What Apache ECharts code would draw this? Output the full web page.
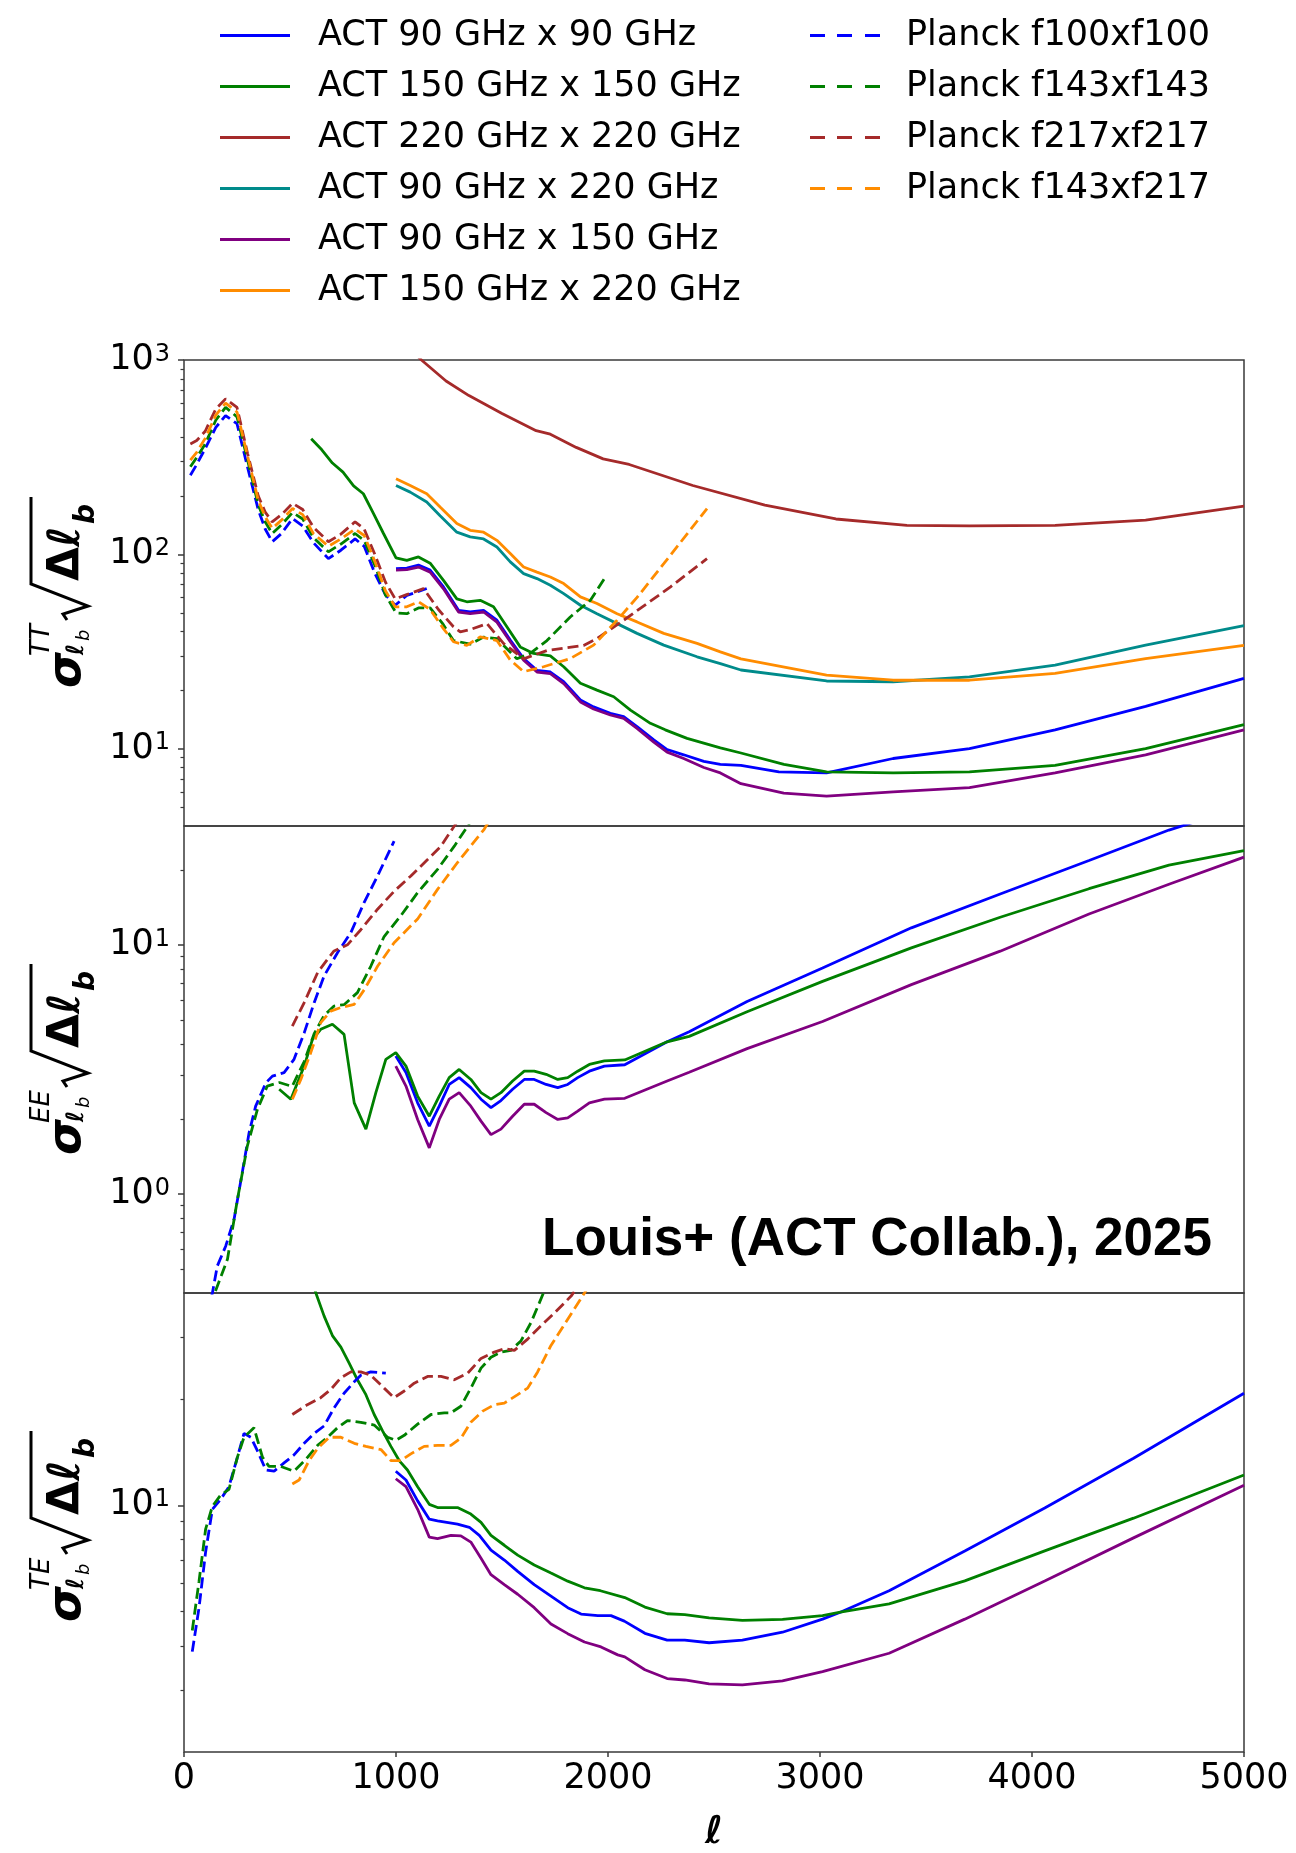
<!DOCTYPE html>
<html><head><meta charset="utf-8">
<script src="https://cdn.jsdelivr.net/npm/echarts@6/dist/echarts.min.js"></script>
<style>html,body{margin:0;padding:0;background:#fff}#c{width:1296px;height:1853px}</style>
</head><body><div id="c"></div>
<script>
// ---------------- names ----------------
const ACT_NAMES = ['ACT 90 GHz x 90 GHz','ACT 150 GHz x 150 GHz','ACT 220 GHz x 220 GHz','ACT 90 GHz x 220 GHz','ACT 90 GHz x 150 GHz','ACT 150 GHz x 220 GHz'];
const PLANCK_NAMES = ['Planck f100xf100','Planck f143xf143','Planck f217xf217','Planck f143xf217'];

// ---------------- axis tick values ----------------
const TT_RANGE = [4, 1000];
const EE_RANGE = [0.4, 30];
const TE_RANGE = [2, 40];
const TT_MAJOR = [10, 100, 1000];
const EE_MAJOR = [1, 10];
const TE_MAJOR = [10];
const TT_MINOR = [5,6,7,8,9,20,30,40,50,60,70,80,90,200,300,400,500,600,700,800,900];
const EE_MINOR = [0.5,0.6,0.7,0.8,0.9,2,3,4,5,6,7,8,9,20];
const TE_MINOR = [3,4,5,6,7,8,9,20,30];
const X_TICKS = [0,1000,2000,3000,4000,5000];

// ---------------- TT data [ell, value] ----------------
const TT_ACT_90x90 = [[1000,84.5],[1051,85],[1106,88],[1161,83],[1224,68],[1295,51.5],[1350,50.6],[1413,51.5],[1476,45.8],[1539,36.2],[1602,29.1],[1665,25.3],[1728,24.8],[1791,22.1],[1870,17.8],[1932,16.4],[2011,15.2],[2074,14.6],[2137,13],[2216,11.1],[2279,9.9],[2357,9.3],[2452,8.6],[2530,8.3],[2627,8.2],[2806,7.6],[3031,7.5],[3345,8.9],[3705,10],[4109,12.5],[4536,16.5],[5000,23]];
const TT_ACT_150x150 = [[600,393],[650,345],[700,295],[750,265],[800,225],[846,205],[894,162],[941,128],[1000,96],[1051,93],[1106,97],[1161,90],[1224,73.5],[1287,59],[1334,57],[1397,58],[1460,53.7],[1523,42.4],[1586,33.4],[1649,30.9],[1728,30],[1791,26.4],[1870,21.7],[1948,20],[2027,18.5],[2106,15.8],[2200,13.5],[2270,12.5],[2373,11.3],[2530,10.1],[2627,9.5],[2830,8.3],[3031,7.6],[3345,7.5],[3705,7.6],[4109,8.2],[4536,10],[5000,13.3]];
const TT_ACT_220x220 = [[1000,1350],[1120,1000],[1236,780],[1344,656],[1500,530],[1661,433],[1728,415],[1850,355],[1977,310],[2100,290],[2400,226],[2740,179],[3075,152],[3410,141],[3705,140],[4109,141],[4536,150],[5000,177]];
const TT_ACT_90x220 = [[1000,226],[1067,209],[1145,186],[1208,158],[1287,130],[1350,123],[1413,120],[1476,109],[1539,91.5],[1602,79.6],[1665,75],[1728,69.3],[1791,62.8],[1870,54.7],[1948,49.5],[2043,44],[2137,39.2],[2263,34.1],[2420,29.7],[2530,27.4],[2627,25.4],[3031,22.3],[3345,22.1],[3705,23.4],[4109,26.9],[4536,34.1],[5000,43]];
const TT_ACT_90x150 = [[1000,83],[1051,83.5],[1106,86],[1161,81],[1224,66.5],[1295,50.5],[1350,49.5],[1413,50.5],[1476,44.8],[1539,35.5],[1602,28.5],[1665,24.8],[1728,24.3],[1791,21.6],[1870,17.4],[1932,16],[2011,14.9],[2074,14.3],[2137,12.7],[2216,10.8],[2279,9.6],[2357,8.9],[2452,8.0],[2530,7.5],[2627,6.6],[2829,5.9],[3031,5.7],[3345,6.0],[3705,6.3],[4109,7.5],[4536,9.3],[5000,12.5]];
const TT_ACT_150x220 = [[1000,245],[1067,226],[1145,205],[1208,175],[1287,144],[1350,133],[1413,130],[1476,118],[1539,101],[1602,86],[1665,81],[1728,76.5],[1791,70.7],[1870,60.4],[1948,55.8],[2043,49.5],[2137,44.9],[2263,39.2],[2420,34.8],[2530,31.5],[2627,29],[3031,23.9],[3345,22.5],[3705,22.5],[4109,24.4],[4536,29.1],[5000,34]];
const TT_P_100 = [[30,255],[60,290],[100,350],[150,450],[196,518],[250,470],[300,280],[350,170],[383,135],[416,116],[460,128],[512,153],[560,140],[610,115],[681,95],[740,105],[807,120],[850,110],[900,80],[950,62],[996,54.7],[1051,61.5],[1100,64],[1145,66.7]];
const TT_P_143 = [[30,282],[60,315],[100,370],[150,490],[196,571],[250,510],[300,305],[350,180],[383,147],[416,128],[460,142],[512,164],[560,152],[610,122],[681,103],[740,113],[807,128],[850,118],[900,88],[950,62],[1000,50],[1051,49.5],[1106,53],[1161,53],[1220,44],[1271,36],[1350,34.5],[1413,37.5],[1476,36.8],[1570,29],[1633,30.9],[1712,36],[1822,47.6],[1917,58],[1988,76.5]];
const TT_P_217 = [[30,370],[60,385],[100,430],[150,560],[196,631],[250,570],[300,330],[350,200],[383,165],[416,147],[460,160],[512,183],[560,170],[610,138],[681,116],[740,127],[807,147],[850,135],[900,100],[950,72],[996,59],[1050,62],[1130,66.6],[1200,52],[1271,42.4],[1303,39.9],[1350,41],[1429,44],[1507,34.8],[1602,29],[1712,32],[1800,33],[1885,34],[1948,36.9],[2074,45.8],[2184,55.8],[2295,68],[2467,95]];
const TT_P_143x217 = [[30,305],[60,335],[100,395],[150,520],[196,600],[250,540],[300,320],[350,190],[383,156],[416,136],[460,150],[512,172],[560,160],[610,128],[681,110],[740,120],[807,135],[850,125],[900,92],[950,65],[996,53.7],[1051,53.7],[1106,57],[1161,52],[1220,42],[1271,35.5],[1334,34],[1397,37.6],[1476,36],[1539,28.6],[1602,24.9],[1696,26.4],[1822,29.1],[1932,34.1],[2043,45.8],[2137,60],[2263,89.5],[2467,172]];

// ---------------- EE data ----------------
const EE_ACT_90x90 = [[999,3.58],[1047,3.07],[1102,2.32],[1157,1.87],[1204,2.25],[1251,2.75],[1298,2.93],[1353,2.67],[1401,2.4],[1448,2.22],[1495,2.37],[1550,2.63],[1605,2.88],[1652,2.88],[1708,2.75],[1763,2.67],[1810,2.75],[1857,2.93],[1912,3.11],[1983,3.26],[2079,3.3],[2279,4.08],[2383,4.48],[2656,5.92],[3012,8.07],[3431,11.7],[3850,16],[4269,21.8],[4646,28.9],[5000,36]];
const EE_ACT_150x150 = [[449,2.63],[504,2.4],[567,3.26],[606,4.17],[645,4.58],[700,4.8],[755,4.37],[803,2.32],[858,1.82],[905,2.55],[952,3.47],[999,3.69],[1047,3.26],[1102,2.47],[1157,2.05],[1204,2.47],[1251,2.93],[1298,3.16],[1353,2.88],[1401,2.55],[1448,2.4],[1495,2.55],[1550,2.84],[1605,3.11],[1652,3.11],[1708,3.02],[1763,2.88],[1810,2.93],[1857,3.11],[1912,3.31],[1983,3.42],[2079,3.45],[2279,4.08],[2383,4.29],[2656,5.39],[3012,7.13],[3431,9.72],[3850,12.9],[4269,16.8],[4646,20.9],[5000,23.9]];
const EE_ACT_90x150 = [[999,3.26],[1047,2.71],[1102,1.99],[1157,1.53],[1204,1.99],[1251,2.4],[1298,2.55],[1353,2.25],[1401,1.96],[1448,1.73],[1495,1.82],[1550,2.05],[1605,2.29],[1652,2.29],[1708,2.12],[1763,1.99],[1810,2.02],[1857,2.15],[1912,2.32],[1983,2.4],[2079,2.42],[2279,2.84],[2383,3.08],[2656,3.83],[3012,4.92],[3431,6.92],[3850,9.43],[4269,13.3],[4646,17.5],[5000,22.5]];
const EE_P_100 = [[30,0.12],[100,0.3],[134,0.4],[157,0.513],[197,0.618],[236,0.79],[275,1.22],[307,1.76],[338,2.25],[386,2.79],[417,2.97],[472,3.07],[519,3.47],[567,4.43],[614,5.86],[661,7.5],[724,9.3],[787,11.2],[850,14.8],[913,18.9],[991,26.1]];
const EE_P_143 = [[30,0.11],[100,0.28],[145,0.4],[205,0.546],[252,0.95],[299,1.56],[346,2.18],[393,2.71],[450,2.8],[510,2.7],[567,3.4],[614,4.4],[661,5.2],[708,5.68],[755,5.75],[818,6.43],[881,8.2],[944,10.8],[1023,13.1],[1102,16.2],[1196,20.1],[1275,24.9],[1338,30],[1400,36]];
const EE_P_217 = [[511,4.72],[567,5.86],[630,7.73],[677,8.75],[708,9.45],[771,10],[834,11.5],[913,13.9],[991,16.4],[1070,18.9],[1149,22],[1212,24.9],[1275,30],[1340,36]];
const EE_P_143x217 = [[511,2.4],[551,2.88],[598,3.69],[645,4.87],[692,5.42],[740,5.6],[803,5.77],[850,6.6],[913,8.2],[991,10.2],[1102,12.7],[1196,16.7],[1290,21.4],[1416,29.1],[1480,36]];

// ---------------- TE data ----------------
const TE_ACT_90x90 = [[999,12.5],[1047,11.8],[1102,10.3],[1157,9.14],[1196,9.04],[1290,8.85],[1346,8.67],[1393,8.22],[1448,7.47],[1511,7.0],[1574,6.5],[1652,5.96],[1731,5.53],[1810,5.13],[1873,4.92],[1952,4.87],[2014,4.87],[2077,4.7],[2174,4.34],[2279,4.15],[2362,4.15],[2477,4.08],[2634,4.15],[2823,4.37],[3012,4.76],[3096,4.98],[3326,5.73],[3683,7.43],[4060,9.83],[4479,13.6],[5000,20.8]];
const TE_ACT_150x150 = [[600,44],[622,40],[661,34.4],[700,30.3],[740,28.1],[779,25.3],[818,22.7],[858,20.6],[897,18.1],[936,16.3],[976,14.7],[1015,13.4],[1054,12.6],[1102,11.3],[1157,10.07],[1196,9.86],[1290,9.86],[1353,9.45],[1401,8.95],[1448,8.22],[1511,7.71],[1574,7.23],[1652,6.78],[1731,6.43],[1810,6.1],[1889,5.84],[1964,5.73],[2079,5.48],[2174,5.15],[2279,4.93],[2362,4.9],[2477,4.8],[2634,4.72],[2823,4.75],[3012,4.87],[3096,4.98],[3326,5.26],[3683,6.11],[4060,7.43],[4479,9.2],[5000,12.2]];
const TE_ACT_90x150 = [[999,11.9],[1047,11.3],[1102,9.75],[1157,8.13],[1196,8.05],[1259,8.22],[1306,8.2],[1353,7.87],[1401,7.08],[1448,6.36],[1511,5.96],[1574,5.6],[1652,5.13],[1731,4.61],[1810,4.33],[1889,4.1],[1967,3.97],[2046,3.77],[2079,3.72],[2174,3.42],[2279,3.23],[2362,3.2],[2477,3.12],[2634,3.1],[2823,3.18],[3012,3.38],[3326,3.81],[3683,4.76],[4060,6.11],[4479,8.09],[5000,11.4]];
const TE_P_100 = [[39,3.85],[71,5.13],[102,7.38],[134,9.75],[173,10.4],[212,11.3],[252,13.7],[283,16],[315,15.6],[346,14.3],[386,12.6],[425,12.5],[472,13.2],[519,13.9],[567,15],[614,16],[661,16.8],[708,18.9],[755,20.8],[803,22.4],[834,23.4],[881,23.9],[952,23.7]];
const TE_P_143 = [[39,4.42],[71,6.1],[102,8.57],[134,9.95],[173,10.7],[212,11.1],[252,13.7],[283,15.6],[330,16.6],[370,13.7],[401,12.9],[456,12.9],[519,12.5],[574,13.5],[630,14.8],[677,15.6],[724,16.6],[771,17.4],[834,17.2],[897,16.9],[960,15.6],[999,15.3],[1039,15.8],[1102,17],[1165,18.1],[1228,18.3],[1259,18.3],[1306,19.1],[1353,21.5],[1401,24.5],[1448,26.3],[1495,27.2],[1542,27.5],[1590,29.3],[1637,33],[1676,37.5],[1710,42]];
const TE_P_217 = [[511,18.1],[582,19.3],[645,20.2],[692,21.3],[740,23],[787,23.9],[834,23.9],[881,23.4],[944,21.5],[991,20.2],[1039,21.1],[1086,22.2],[1149,23.2],[1212,23.2],[1275,22.7],[1338,23.7],[1401,26.1],[1464,27.2],[1511,27.8],[1558,27.5],[1621,29.6],[1684,32.3],[1747,35.1],[1826,39.2],[1860,42]];
const TE_P_143x217 = [[511,11.5],[543,11.8],[590,13.4],[630,14.5],[685,15.6],[740,15.6],[803,15],[858,14.7],[929,14.4],[976,13.4],[1023,13.4],[1070,14],[1133,14.7],[1196,14.8],[1259,14.8],[1306,15.5],[1353,17.2],[1409,18.5],[1464,19.3],[1511,19.5],[1574,20.6],[1621,21.5],[1668,23.9],[1731,28.4],[1810,33.7],[1889,40],[1920,43]];

// ---------------- styling ----------------
const COLOR = {
  'ACT 90 GHz x 90 GHz':'#0000ff','ACT 150 GHz x 150 GHz':'#008000','ACT 220 GHz x 220 GHz':'#a52a2a',
  'ACT 90 GHz x 220 GHz':'#008b8b','ACT 90 GHz x 150 GHz':'#800080','ACT 150 GHz x 220 GHz':'#ff8c00',
  'Planck f100xf100':'#0000ff','Planck f143xf143':'#008000','Planck f217xf217':'#a52a2a','Planck f143xf217':'#ff8c00'
};
const FONT = '"DejaVu Sans", sans-serif';
const GRID_LEFT = 184, GRID_W = 1060, GRID_TOPS = [360, 826, 1293], GRID_H = [466, 467, 467];

const PANELS = [
  {range:TT_RANGE, major:TT_MAJOR, minor:TT_MINOR, sup:'TT', series:[
    ['ACT 90 GHz x 90 GHz',TT_ACT_90x90],['ACT 150 GHz x 150 GHz',TT_ACT_150x150],['ACT 220 GHz x 220 GHz',TT_ACT_220x220],
    ['ACT 90 GHz x 220 GHz',TT_ACT_90x220],['ACT 90 GHz x 150 GHz',TT_ACT_90x150],['ACT 150 GHz x 220 GHz',TT_ACT_150x220],
    ['Planck f100xf100',TT_P_100],['Planck f143xf143',TT_P_143],['Planck f217xf217',TT_P_217],['Planck f143xf217',TT_P_143x217]]},
  {range:EE_RANGE, major:EE_MAJOR, minor:EE_MINOR, sup:'EE', series:[
    ['ACT 90 GHz x 90 GHz',EE_ACT_90x90],['ACT 150 GHz x 150 GHz',EE_ACT_150x150],['ACT 90 GHz x 150 GHz',EE_ACT_90x150],
    ['Planck f100xf100',EE_P_100],['Planck f143xf143',EE_P_143],['Planck f217xf217',EE_P_217],['Planck f143xf217',EE_P_143x217]]},
  {range:TE_RANGE, major:TE_MAJOR, minor:TE_MINOR, sup:'TE', series:[
    ['ACT 90 GHz x 90 GHz',TE_ACT_90x90],['ACT 150 GHz x 150 GHz',TE_ACT_150x150],['ACT 90 GHz x 150 GHz',TE_ACT_90x150],
    ['Planck f100xf100',TE_P_100],['Planck f143xf143',TE_P_143],['Planck f217xf217',TE_P_217],['Planck f143xf217',TE_P_143x217]]}
];

const grids = [], xAxes = [], yAxes = [], series = [];
PANELS.forEach((p, g) => {
  grids.push({left:GRID_LEFT, top:GRID_TOPS[g], width:GRID_W, height:GRID_H[g], show:true,
    borderColor:'#3a3a3a', borderWidth:1.5, backgroundColor:'transparent'});
  const last = g === PANELS.length - 1;
  xAxes.push({type:'value', gridIndex:g, min:0, max:5000, interval:1000,
    axisLine:{show:false}, splitLine:{show:false},
    axisTick:{show:last, length:5, customValues:X_TICKS, lineStyle:{color:'#3a3a3a', width:1.5}},
    axisLabel:{show:last, fontSize:35, fontFamily:FONT, color:'#000', margin:9, customValues:X_TICKS,
      formatter:(v)=>String(v)},
    name: last ? 'ℓ' : '', nameLocation:'middle', nameGap:62,
    nameTextStyle:{fontSize:38, fontFamily:FONT, fontStyle:'italic', fontWeight:'bold', color:'#000'}});
  const lmin = Math.log10(p.range[0]), lmax = Math.log10(p.range[1]);
  // data axis (log)
  yAxes.push({type:'log', logBase:10, gridIndex:g, min:p.range[0], max:p.range[1],
    axisLine:{show:false}, axisTick:{show:false}, axisLabel:{show:false}, splitLine:{show:false}, minorTick:{show:false}});
  // major ticks + labels (in decades)
  yAxes.push({type:'value', gridIndex:g, min:lmin, max:lmax, position:'left',
    axisLine:{show:false}, splitLine:{show:false},
    axisTick:{show:true, length:6, customValues:p.major.map(v=>Math.log10(v)), lineStyle:{color:'#3a3a3a', width:1.5}},
    axisLabel:{show:true, margin:14, customValues:p.major.map(v=>Math.log10(v)),
      formatter:(v)=>'{m|10}{e|' + Math.round(v) + '}',
      rich:{m:{fontSize:35, fontFamily:FONT, color:'#000'}, e:{fontSize:24, fontFamily:FONT, color:'#000', verticalAlign:'top', padding:[0,0,0,1]}}}});
  // minor ticks
  yAxes.push({type:'value', gridIndex:g, min:lmin, max:lmax, position:'left',
    axisLine:{show:false}, splitLine:{show:false}, axisLabel:{show:false},
    axisTick:{show:true, length:3.5, customValues:p.minor.map(v=>Math.log10(v)), lineStyle:{color:'#3a3a3a', width:1.2}}});
  p.series.forEach(([name, data]) => {
    const dashed = name.startsWith('Planck');
    series.push({name, type:'line', xAxisIndex:g, yAxisIndex:3*g, data, symbol:'none', silent:true,
      clip:true, z: dashed ? 3 : 2,
      lineStyle:{color:COLOR[name], width:2.8, type: dashed ? [11,5] : 'solid'},
      itemStyle:{color:COLOR[name]}});
  });
});

function yLabel(gx, gy, sup) {
  const t = (text, x, y, font) => ({type:'text', x, y, silent:true,
    style:{text, font, fill:'#000', align:'left', verticalAlign:'middle'}});
  return {type:'group', x:gx, y:gy, rotation:Math.PI/2, silent:true, children:[
    t('σ', 0, -15, 'italic bold 46px "DejaVu Sans"'),
    t(sup, 32, -41, 'italic 26px "DejaVu Sans"'),
    t('ℓ', 33, -6, 'italic bold 24px "DejaVu Sans"'),
    t('b', 47, 1, 'italic 18px "DejaVu Sans"'),
    {type:'polyline', silent:true, shape:{points:[[68,-16],[74,-20],[82,5],[104,-52],[191,-52]]},
      style:{stroke:'#000', lineWidth:3, fill:null}},
    t('Δℓ', 107, -15, 'bold 44px "DejaVu Sans"'),
    t('b', 164, 4, 'italic bold 28px "DejaVu Sans"')
  ]};
}

const option = {
  animation:false,
  backgroundColor:'#fff',
  legend:[
    {data:ACT_NAMES, orient:'vertical', left:220, top:18, padding:0, itemWidth:70, itemHeight:3, itemGap:16,
      icon:'rect', selectedMode:false,
      textStyle:{fontSize:35, fontFamily:FONT, color:'#000', lineHeight:35, padding:[0,0,0,23]}},
    {data:PLANCK_NAMES, orient:'vertical', left:810, top:18, padding:0, itemWidth:70, itemHeight:3, itemGap:16,
      icon:'path://M0,0H15V3H0Z M27,0H42V3H27Z M55,0H70V3H55Z', selectedMode:false,
      textStyle:{fontSize:35, fontFamily:FONT, color:'#000', lineHeight:35, padding:[0,0,0,21]}}
  ],
  grid:grids, xAxis:xAxes, yAxis:yAxes, series,
  graphic:[
    yLabel(83, 688, PANELS[0].sup),
    yLabel(83, 1155, PANELS[1].sup),
    yLabel(83, 1622, PANELS[2].sup),
    {type:'text', x:1212, y:1240, silent:true, z:10,
      style:{text:'Louis+ (ACT Collab.), 2025', font:'bold 53px "Liberation Sans"', fill:'#000', align:'right', verticalAlign:'middle'}}
  ]
};
const chart = echarts.init(document.getElementById('c'), null, {renderer:'canvas', width:1296, height:1853});
chart.setOption(option);
</script></body></html>
